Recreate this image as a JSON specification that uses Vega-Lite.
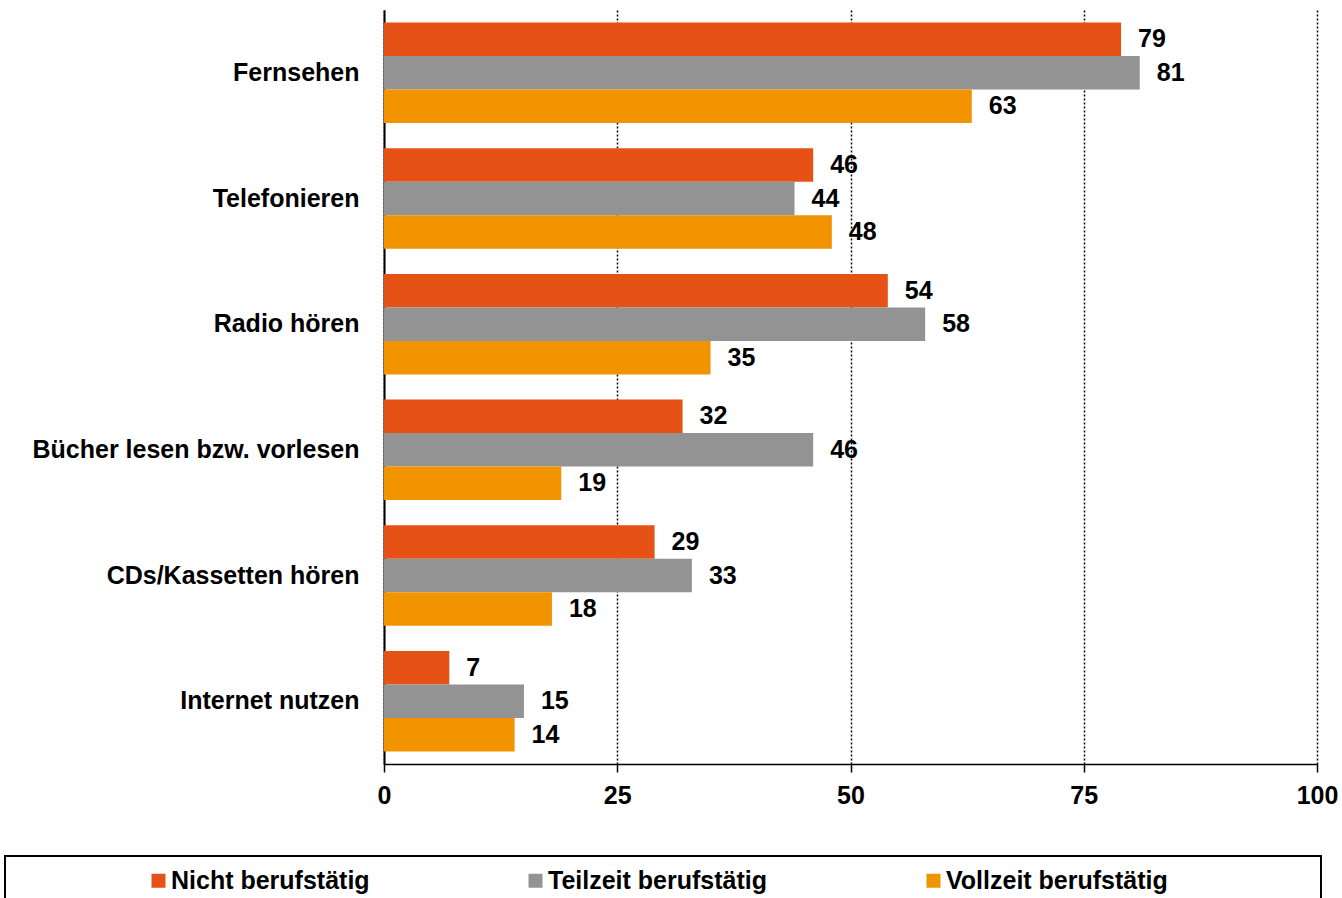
{
  "$schema": "https://vega.github.io/schema/vega-lite/v6.json",
  "autosize": "none",
  "width": 933,
  "height": 754,
  "padding": {"left": 384, "top": 10, "right": 25, "bottom": 134},
  "background": "white",
  "config": {
    "view": {"stroke": null},
    "font": "Liberation Sans",
    "axis": {"labelFont": "Liberation Sans", "labelFontWeight": "bold", "labelFontSize": 25, "labelColor": "black"},
    "legend": {"strokeWidth": 2}
  },
  "data": {
    "values": [
      {"cat": "Fernsehen", "group": "Nicht berufstätig", "value": 79},
      {"cat": "Fernsehen", "group": "Teilzeit berufstätig", "value": 81},
      {"cat": "Fernsehen", "group": "Vollzeit berufstätig", "value": 63},
      {"cat": "Telefonieren", "group": "Nicht berufstätig", "value": 46},
      {"cat": "Telefonieren", "group": "Teilzeit berufstätig", "value": 44},
      {"cat": "Telefonieren", "group": "Vollzeit berufstätig", "value": 48},
      {"cat": "Radio hören", "group": "Nicht berufstätig", "value": 54},
      {"cat": "Radio hören", "group": "Teilzeit berufstätig", "value": 58},
      {"cat": "Radio hören", "group": "Vollzeit berufstätig", "value": 35},
      {"cat": "Bücher lesen bzw. vorlesen", "group": "Nicht berufstätig", "value": 32},
      {"cat": "Bücher lesen bzw. vorlesen", "group": "Teilzeit berufstätig", "value": 46},
      {"cat": "Bücher lesen bzw. vorlesen", "group": "Vollzeit berufstätig", "value": 19},
      {"cat": "CDs/Kassetten hören", "group": "Nicht berufstätig", "value": 29},
      {"cat": "CDs/Kassetten hören", "group": "Teilzeit berufstätig", "value": 33},
      {"cat": "CDs/Kassetten hören", "group": "Vollzeit berufstätig", "value": 18},
      {"cat": "Internet nutzen", "group": "Nicht berufstätig", "value": 7},
      {"cat": "Internet nutzen", "group": "Teilzeit berufstätig", "value": 15},
      {"cat": "Internet nutzen", "group": "Vollzeit berufstätig", "value": 14}
    ]
  },
  "encoding": {
    "y": {
      "field": "cat", "type": "nominal", "sort": null,
      "scale": {"paddingInner": 0.2, "paddingOuter": 0.1},
      "axis": {"title": null, "ticks": false, "labelPadding": 25, "labelLimit": 400, "domainColor": "black", "domainWidth": 2, "grid": false}
    },
    "yOffset": {"field": "group", "type": "nominal", "sort": null, "scale": {"paddingInner": 0, "paddingOuter": 0}},
    "x": {
      "field": "value", "type": "quantitative",
      "scale": {"domain": [0, 100], "nice": false},
      "axis": {"title": null, "values": [0, 25, 50, 75, 100], "grid": true, "gridColor": "black", "gridDash": [2, 2], "gridWidth": 1.5, "domainColor": "black", "domainWidth": 1.5, "tickColor": "black", "tickSize": 8, "tickWidth": 1.5, "labelPadding": 11, "labelFlush": false}
    }
  },
  "layer": [
    {
      "mark": {"type": "bar", "strokeWidth": 0},
      "encoding": {
        "color": {
          "field": "group", "type": "nominal", "sort": null,
          "scale": {"domain": ["Nicht berufstätig", "Teilzeit berufstätig", "Vollzeit berufstätig"], "range": ["#E65115", "#939393", "#F29400"]},
          "legend": {
            "orient": "none", "legendX": -379, "legendY": 846,
            "direction": "horizontal", "columns": 3, "columnPadding": 24,
            "title": "\u00a0", "titleOrient": "right", "titlePadding": 141, "titleFontSize": 22,
            "symbolType": "square", "symbolSize": 196, "symbolStrokeWidth": 0, "symbolOffset": 129,
            "labelFont": "Liberation Sans", "labelFontWeight": "bold", "labelFontSize": 25, "labelColor": "black", "labelOffset": 0, "labelLimit": 400,
            "strokeColor": "black", "padding": 12
          }
        }
      }
    },
    {
      "mark": {"type": "text", "align": "left", "baseline": "middle", "dx": 17, "font": "Liberation Sans", "fontWeight": "bold", "fontSize": 25, "color": "black"},
      "encoding": {"text": {"field": "value", "type": "quantitative"}}
    }
  ]
}
